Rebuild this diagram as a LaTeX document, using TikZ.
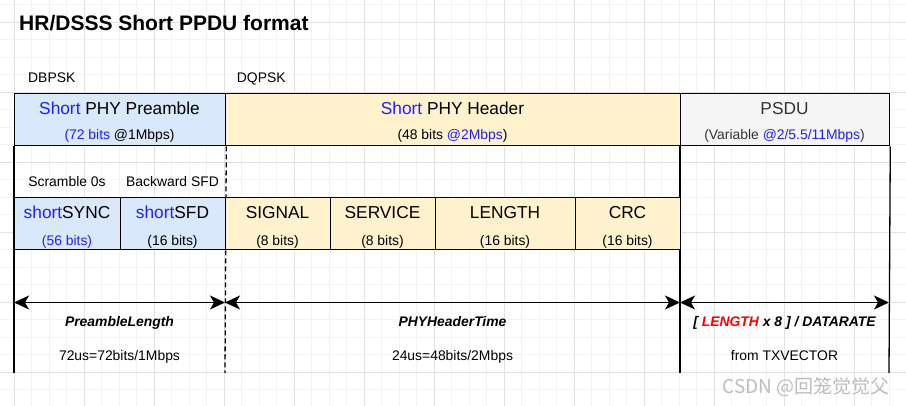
\documentclass[tikz,border=0pt]{standalone}
\usepackage{fontspec}
\setmainfont{Liberation Sans}
\newfontfamily\cjk{Noto Sans CJK SC}
\usetikzlibrary{arrows.meta}

\definecolor{preblue}{HTML}{DAE8FC}
\definecolor{hdryellow}{HTML}{FFF2CC}
\definecolor{psdugray}{HTML}{F5F5F5}
\definecolor{txtblue}{HTML}{1F1FFF}
\definecolor{txtred}{HTML}{FF0000}
\definecolor{txtgray}{HTML}{333333}
\definecolor{gridminor}{HTML}{F3F3F3}
\definecolor{gridmajor}{HTML}{E2E2E2}
\definecolor{wmgray}{HTML}{BDBDBD}

\begin{document}
\begin{tikzpicture}[x=1pt,y=-1pt]

\tikzset{field/.style = {draw, line width=1.3pt, anchor=north west, inner sep=0pt, minimum height=52pt}}
\tikzset{maintxt/.style = {anchor=base, inner sep=0pt, font=\fontsize{17.3}{20}\selectfont}}
\tikzset{subtxt/.style = {anchor=base, inner sep=0pt, font=\fontsize{13.9}{16}\selectfont}}
\tikzset{timetxt/.style = {anchor=base, inner sep=0pt, font=\bfseries\itshape\fontsize{13.9}{16}\selectfont}}
\tikzset{span/.style = {{Stealth[length=15pt,width=14pt,inset=4pt]}-{Stealth[length=15pt,width=14pt,inset=4pt]}, line width=1.4pt}}

\useasboundingbox (0,0) rectangle (906,406);

% grid
\foreach \i in {0,...,52} {\draw[gridminor, line width=1pt] (-3.2+17.5*\i,0) -- (-3.2+17.5*\i,406);}
\foreach \i in {0,...,23} {\draw[gridminor, line width=1pt] (0,4.8+17.5*\i) -- (906,4.8+17.5*\i);}
\foreach \i in {0,...,12} {\draw[gridmajor, line width=1pt] (14.3+70*\i,0) -- (14.3+70*\i,406);}
\foreach \i in {0,...,5} {\draw[gridmajor, line width=1pt] (0,22.3+70*\i) -- (906,22.3+70*\i);}

% title and modulation
\node[anchor=base west, inner sep=0pt, font=\bfseries\fontsize{21}{24}\selectfont] (title) at (19,30.7) {HR/DSSS Short PPDU format};
\node[subtxt, anchor=base west] (dbpsk) at (28,82.3) {DBPSK};
\node[subtxt, anchor=base west] (dqpsk) at (236.7,82.3) {DQPSK};

% ppdu fields
\node[field, fill=preblue, minimum width=211pt] (pre) at (14,93) {};
\node[field, fill=hdryellow, minimum width=455pt] (hdr) at (225,93) {};
\node[field, fill=psdugray, minimum width=209pt] (psdu) at (680,93) {};

\node[maintxt] (pre-t) at (119.5,114.3) {\textcolor{txtblue}{Short} PHY Preamble};
\node[subtxt] (pre-s) at (119.5,139.3) {\textcolor{txtblue}{(72 bits} @1Mbps)};
\node[maintxt] (hdr-t) at (452.5,114.3) {\textcolor{txtblue}{Short} PHY Header};
\node[subtxt] (hdr-s) at (452.5,139.3) {(48 bits \textcolor{txtblue}{@2Mbps})};
\node[maintxt, text=txtgray] (psdu-t) at (784.5,114.3) {PSDU};
\node[subtxt, text=txtgray] (psdu-s) at (784.5,139.3) {(Variable \textcolor{txtblue}{@2/5.5/11Mbps})};

% boundaries
\coordinate (endL) at (14,373);
\coordinate (endM) at (225,373);
\coordinate (endR) at (680,373);
\coordinate (endE) at (889,373);
\draw[line width=1.3pt] (pre.south west) -- (endL);
\draw[line width=1.3pt, dash pattern=on 5pt off 3pt] (pre.south east) -- (endM);
\draw[line width=1.3pt] (psdu.south west) -- (endR);
\draw[line width=1.3pt] (psdu.south east) -- (endE);

% sub fields
\node[subtxt] (scr) at (67,187) {Scramble 0s};
\node[subtxt] (bwd) at (172.5,187) {Backward SFD};

\node[field, fill=preblue, minimum width=106pt] (sync) at (14,197) {};
\node[field, fill=preblue, minimum width=105pt] (sfd) at (120,197) {};
\node[field, fill=hdryellow, minimum width=105pt] (signal) at (225,197) {};
\node[field, fill=hdryellow, minimum width=105pt] (service) at (330,197) {};
\node[field, fill=hdryellow, minimum width=140pt] (length) at (435,197) {};
\node[field, fill=hdryellow, minimum width=105pt] (crc) at (575,197) {};

\node[maintxt] (sync-t) at (67,218.7) {\textcolor{txtblue}{short}SYNC};
\node[subtxt, text=txtblue] (sync-s) at (67,245.3) {(56 bits)};
\node[maintxt] (sfd-t) at (172.5,218.7) {\textcolor{txtblue}{short}SFD};
\node[subtxt] (sfd-s) at (172.5,245.3) {(16 bits)};
\node[maintxt] (signal-t) at (277.5,218.7) {SIGNAL};
\node[subtxt] (signal-s) at (277.5,245.3) {(8 bits)};
\node[maintxt] (service-t) at (382.5,218.7) {SERVICE};
\node[subtxt] (service-s) at (382.5,245.3) {(8 bits)};
\node[maintxt] (length-t) at (505,218.7) {LENGTH};
\node[subtxt] (length-s) at (505,245.3) {(16 bits)};
\node[maintxt] (crc-t) at (627.5,218.7) {CRC};
\node[subtxt] (crc-s) at (627.5,245.3) {(16 bits)};

% durations
\coordinate (a0) at (14,302.5);
\coordinate (a1) at (225,302.5);
\coordinate (a2) at (680,302.5);
\coordinate (a3) at (889,302.5);
\draw[span] (a0) -- (a1);
\draw[span] (a1) -- (a2);
\draw[span] (a2) -- (a3);

\node[timetxt] (pl) at (119.5,326.5) {PreambleLength};
\node[timetxt] (ht) at (452.5,326.5) {PHYHeaderTime};
\node[timetxt] (dt) at (784.5,326.5) {[ \textcolor{txtred}{LENGTH} x 8 ] / DATARATE};
\node[subtxt] (pl-v) at (119.5,361) {72us=72bits/1Mbps};
\node[subtxt] (ht-v) at (452.5,361) {24us=48bits/2Mbps};
\node[subtxt] (dt-v) at (784.5,361) {from TXVECTOR};

\node[anchor=base east, inner sep=0pt, text=wmgray, font=\cjk\fontsize{19}{21}\selectfont] (wm) at (890,393) {CSDN @回笼觉觉父};

\end{tikzpicture}
\end{document}
